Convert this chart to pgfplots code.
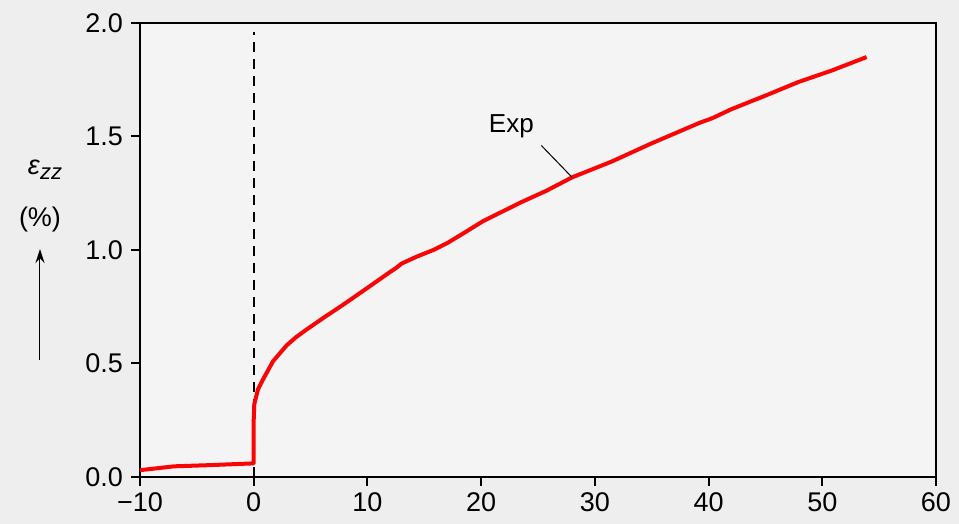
\documentclass[border=0pt]{standalone}
\usepackage{pgfplots}
\pgfplotsset{compat=1.18}
\usetikzlibrary{arrows.meta}
\usepackage{fontspec}
\setmainfont{Liberation Sans}
\definecolor{bgout}{RGB}{238,238,238}
\definecolor{bgin}{RGB}{244,244,244}
\definecolor{curvered}{RGB}{250,5,5}
\begin{document}
\begin{tikzpicture}[font=\fontsize{13.5}{16}\selectfont]
\useasboundingbox (-70pt,-23.5pt) rectangle (409.5pt,238.5pt);
\fill[bgout] (-70pt,-23.5pt) rectangle (409.5pt,238.5pt);
\begin{axis}[
  at={(0,0)}, anchor=south west,
  width=398pt, height=227pt, scale only axis,
  xmin=-10, xmax=60, ymin=0, ymax=2.0,
  axis background/.style={fill=bgin},
  axis line style={line width=1pt},
  xtick={-10,0,10,20,30,40,50,60},
  xticklabels={−10,0,10,20,30,40,50,60},
  ytick={0,0.5,1.0,1.5,2.0},
  yticklabels={0.0,0.5,1.0,1.5,2.0},
  xtick pos=bottom, ytick pos=left,
  tick align=outside,
  major tick length=4.5pt,
  every tick/.style={black, line width=1pt},
  xticklabel style={yshift=0pt},
  yticklabel style={xshift=-0.5pt},
  clip=false,
]
\addplot[black, line width=0.8pt, dash pattern=on 5pt off 3.5pt] coordinates {(0,0) (0,1.96)};
\addplot[curvered, line width=2pt, line join=round] coordinates {
(-10,0.030) (-7,0.047) (-4,0.052) (-1,0.058) (0,0.060)
(0,0.25) (0.05,0.32) (0.37,0.385) (0.82,0.43) (1.7,0.51)
(2.9,0.58) (3.7,0.615) (4.6,0.648) (6.1,0.70) (7.9,0.76) (10.2,0.84)
(11.9,0.90) (12.5,0.92) (13.0,0.94) (14.3,0.97) (15.8,1.00)
(17.0,1.03) (18.2,1.066) (20.2,1.128) (22.5,1.185) (23.5,1.21)
(25.7,1.26) (28.0,1.32) (31.5,1.39) (35.0,1.47) (39.2,1.56)
(40.3,1.58) (42.0,1.62) (45,1.68) (47.9,1.74) (50.8,1.79) (53.9,1.85)
};
\draw[black, line width=0.5pt] (axis cs:25.3,1.46) -- (axis cs:28.0,1.32);
\node[font=\fontsize{13}{15}\selectfont] at (axis cs:22.66,1.545) {Exp};
\end{axis}
\node at (-47.5pt,153.5pt) {\itshape ε\kern0.3pt\raisebox{-0.35ex}{\fontsize{11}{12}\selectfont zz}};
\node at (-50pt,128.5pt) {(\%)};
\draw[-{Stealth[length=7pt,width=4.5pt]}, line width=0.5pt] (-50pt,58.5pt) -- (-50pt,114pt);
\end{tikzpicture}
\end{document}
